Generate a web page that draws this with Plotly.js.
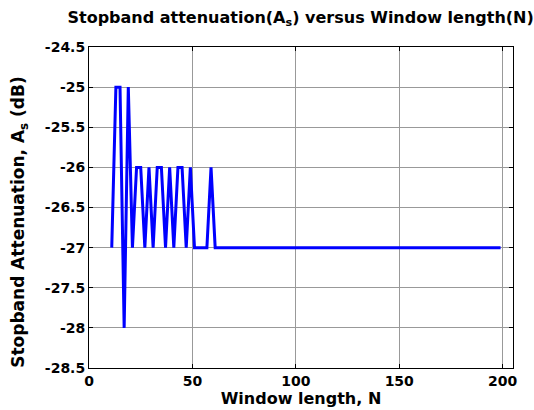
<!DOCTYPE html>
<html>
<head>
<meta charset="utf-8">
<script src="https://cdn.plot.ly/plotly-3.0.1.min.js"></script>
<style>html,body{margin:0;padding:0;background:#fff;}#chart{width:534px;height:410px;}</style>
</head>
<body>
<div id="chart"></div>
<script>
const windowLength = [11,13,15,17,19,21,23,25,27,29,31,33,35,37,39,41,43,45,47,49,
  51,53,55,57,59,61,63,65,67,69,71,73,75,77,79,81,83,85,87,89,
  91,93,95,97,99,101,103,105,107,109,111,113,115,117,119,121,123,125,127,129,
  131,133,135,137,139,141,143,145,147,149,151,153,155,157,159,161,163,165,167,169,
  171,173,175,177,179,181,183,185,187,189,191,193,195,197,199];
const attenuation = [-27,-25,-25,-28,-25,-27,-26,-26,-27,-26,-27,-26,-26,-27,-26,-27,-26,-26,-27,-26,
  -27,-27,-27,-27,-26,-27,-27,-27,-27,-27,-27,-27,-27,-27,-27,-27,-27,-27,-27,-27,
  -27,-27,-27,-27,-27,-27,-27,-27,-27,-27,-27,-27,-27,-27,-27,-27,-27,-27,-27,-27,
  -27,-27,-27,-27,-27,-27,-27,-27,-27,-27,-27,-27,-27,-27,-27,-27,-27,-27,-27,-27,
  -27,-27,-27,-27,-27,-27,-27,-27,-27,-27,-27,-27,-27,-27,-27];
const xTicks = [0,50,100,150,200];
const yTicks = [-28.5,-28,-27.5,-27,-26.5,-26,-25.5,-25,-24.5];
const yTickText = ['-28.5','-28','-27.5','-27','-26.5','-26','-25.5','-25','-24.5'];

const font = {family: 'DejaVu Sans', size: 14, color: '#000', weight: 'bold'};
const titleFont = Object.assign({}, font, {size: 16});
const yTitleFont = Object.assign({}, font, {size: 17});
const axisCommon = {
  showline: true, linecolor: '#000', linewidth: 1, mirror: 'ticks',
  ticks: 'inside', ticklen: 4, tickcolor: '#000',
  showgrid: true, gridcolor: '#999999', gridwidth: 1,
  zeroline: false, tickfont: font
};
Plotly.newPlot('chart', [{
  x: windowLength, y: attenuation, type: 'scatter', mode: 'lines',
  line: {color: '#0000ff', width: 3}
}], {
  width: 534, height: 410,
  margin: {l: 89, r: 21, t: 47, b: 42},
  paper_bgcolor: '#fff', plot_bgcolor: '#fff',
  showlegend: false,
  title: {text: '<b>Stopband attenuation(A<sub>s</sub>) versus Window length(N)</b>', font: titleFont, x: 0.563, xanchor: 'center', y: 0.958, yanchor: 'middle'},
  xaxis: Object.assign({}, axisCommon, {range: [0, 205], tickvals: xTicks, ticktext: xTicks.map(String),
    title: {text: '<b>Window length, N</b>', font: titleFont, standoff: 0}}),
  yaxis: Object.assign({}, axisCommon, {range: [-28.5, -24.5], tickvals: yTicks, ticktext: yTickText}),
  annotations: [{
    text: '<b>Stopband Attenuation, A<sub>s</sub> (dB)</b>', font: yTitleFont,
    textangle: -90, xref: 'paper', yref: 'paper', x: -0.163, y: 0.455,
    xanchor: 'center', yanchor: 'middle', showarrow: false
  }]
}, {displayModeBar: false, staticPlot: true});
</script>
</body>
</html>
